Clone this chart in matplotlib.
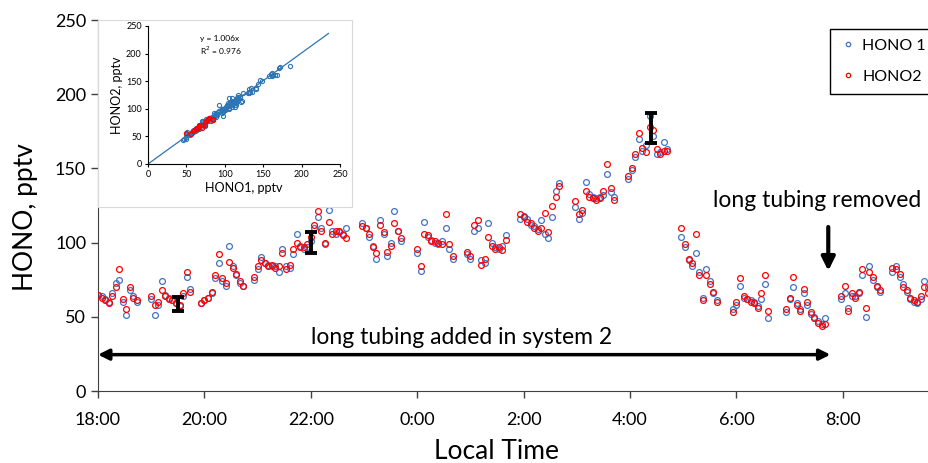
#!/usr/bin/env python3
"""HONO time series from two systems, with an inset HONO1 vs HONO2 scatter."""

import matplotlib
matplotlib.use("Agg")
import matplotlib.pyplot as plt

plt.rcParams["font.family"] = ["Lato", "DejaVu Sans"]

# 4-minute data, split into the segments where the instruments were sampling
STEP_MIN = 4
SEGMENT_START = ["18:00", "19:00", "19:56", "20:56", "22:58", "0:00", "0:56", "1:56",
                 "2:58", "3:58", "4:58", "5:56", "6:56", "7:58", "8:56"]
HONO1_SEGMENTS = [
    [65, 64, 62, 60, 66, 73, 75, 60, 51, 68, 64, 60],
    [62, 51, 58, 74, 65, 63, 61, 59, 57, 64, 77, 69],
    [59, 61, 63, 66, 76, 86, 74, 71, 98, 84, 78, 73, 71],
    [75, 82, 90, 86, 85, 84, 84, 80, 96, 84, 83, 92, 106, 98, 96, 97, 101, 110, 117, 110,
     99, 122, 108, 106, 107, 106, 110],
    [113, 110, 104, 98, 89, 115, 106, 91, 100, 121, 108, 101],
    [93, 81, 114, 104, 102, 100, 99, 101, 110, 96, 89],
    [92, 89, 108, 110, 88, 86, 113, 100, 97, 96, 98, 105],
    [116, 118, 116, 112, 111, 109, 115, 106, 103, 117, 135, 140],
    [124, 116, 120, 141, 133, 131, 130, 131, 132, 146, 134, 131],
    [143, 149, 158, 170, 162, 166, 185, 172, 160, 161, 168, 163],
    [104, 97, 88, 84, 93, 80, 63, 82, 74, 66, 61],
    [55, 58, 71, 63, 62, 61, 60, 57, 62, 72, 49],
    [53, 62, 70, 59, 55, 66, 58, 52, 50, 47, 45, 49],
    [62, 66, 56, 64, 64, 66, 78, 50, 84, 75, 70, 67],
    [80, 84, 77, 72, 67, 62, 60, 59, 62, 74, 70],
]
HONO2_SEGMENTS = [
    [65, 63, 61, 59, 64, 70, 82, 62, 55, 70, 63, 61],
    [64, 58, 60, 68, 64, 62, 61, 59, 58, 66, 80, 67],
    [59, 61, 63, 67, 78, 92, 76, 73, 87, 83, 79, 74, 71],
    [77, 84, 88, 86, 84, 85, 83, 84, 93, 82, 85, 96, 100, 97, 97, 99, 104, 112, 121, 108,
     100, 114, 106, 108, 108, 105, 103],
    [111, 110, 106, 97, 93, 112, 107, 94, 98, 113, 108, 103],
    [96, 84, 106, 105, 101, 101, 100, 99, 119, 99, 91],
    [94, 91, 112, 115, 85, 89, 104, 98, 96, 97, 95, 102],
    [119, 117, 114, 113, 110, 108, 110, 120, 107, 125, 131, 138],
    [128, 119, 122, 135, 131, 130, 129, 130, 135, 153, 137, 129],
    [145, 150, 160, 174, 164, 161, 178, 176, 163, 160, 162, 162],
    [110, 99, 89, 86, 106, 78, 61, 78, 72, 67, 60],
    [53, 60, 76, 64, 62, 60, 59, 56, 66, 78, 54],
    [55, 63, 77, 58, 54, 69, 60, 53, 49, 46, 44, 45],
    [64, 71, 54, 66, 63, 67, 82, 56, 80, 77, 71, 68],
    [83, 82, 79, 70, 68, 63, 61, 60, 64, 70, 66],
]
# segments measured after the long tubing was removed (shown red in the inset)
AFTER_REMOVAL = [13, 14]

ERRBAR_TIME = ["19:30", "22:00", "4:24"]
ERRBAR_CENTER = [58.5, 100, 177]
ERRBAR_HALF = [4.7, 7, 10]

TICK_LABELS = ["18:00", "20:00", "22:00", "0:00", "2:00", "4:00", "6:00", "8:00"]
TUBING_ADDED = "18:00"
TUBING_REMOVED = "7:46"

FIT_SLOPE = 1.006
FIT_R2 = 0.976

BLUE = "#4472C4"
RED = "#FF0000"


def clock_to_hours(clock: str) -> float:
    hh, mm = clock.split(":")
    return (int(hh) - 18) % 24 + int(mm) / 60


def series_times(start: str, n: int) -> list[float]:
    t0 = clock_to_hours(start)
    return [t0 + i * STEP_MIN / 60 for i in range(n)]


def main() -> None:
    fig = plt.figure(figsize=(9.29, 4.63), dpi=100)
    ax = fig.add_axes([0.1055, 0.1555, 0.8945, 0.8013])

    for k, (start, h1, h2) in enumerate(zip(SEGMENT_START, HONO1_SEGMENTS, HONO2_SEGMENTS)):
        t = series_times(start, len(h1))
        ax.plot(t, h1, ls="none", marker="o", ms=4.2, mfc="none", mec=BLUE, mew=0.9,
                label="HONO 1" if k == 0 else None, zorder=3)
        ax.plot(t, h2, ls="none", marker="o", ms=4.2, mfc="none", mec=RED, mew=0.9,
                label="HONO2" if k == 0 else None, zorder=4)

    err_t = [clock_to_hours(c) for c in ERRBAR_TIME]
    ax.errorbar(err_t, ERRBAR_CENTER, yerr=ERRBAR_HALF, fmt="none", ecolor="black",
                elinewidth=2.8, capsize=4.5, capthick=2.8, zorder=5)

    ax.set_xlim(0, 15.62)
    ax.set_ylim(0, 250)
    ax.set_xticks([clock_to_hours(c) for c in TICK_LABELS])
    ax.set_xticklabels(TICK_LABELS)
    ax.set_yticks([0, 50, 100, 150, 200, 250])
    ax.tick_params(axis="both", direction="out", length=5, width=1, labelsize=13,
                   color="#404040")
    ax.tick_params(axis="x", pad=10)
    ax.spines["top"].set_visible(False)
    ax.spines["right"].set_visible(False)
    for side in ("left", "bottom"):
        ax.spines[side].set_color("#404040")
    ax.set_xlabel("Local Time", fontsize=19, labelpad=8)
    ax.xaxis.label.set_x(0.479)
    ax.set_ylabel("HONO, pptv", fontsize=19, labelpad=12)
    ax.yaxis.label.set_y(0.47)

    # annotations
    t_add = clock_to_hours(TUBING_ADDED)
    t_rem = clock_to_hours(TUBING_REMOVED)
    ax.annotate("", xy=(t_add, 24.5), xytext=(t_rem, 24.5),
                arrowprops=dict(arrowstyle="<|-|>", lw=2.5, color="black",
                                mutation_scale=16, shrinkA=0, shrinkB=0))
    ax.text((t_add + t_rem) / 2 - 0.05, 36, "long tubing added in system 2",
            ha="center", va="center", fontsize=16.5)
    ax.annotate("", xy=(t_rem - 0.04, 81), xytext=(t_rem - 0.04, 110.5),
                arrowprops=dict(arrowstyle="-|>", lw=3, color="black",
                                mutation_scale=20, shrinkA=0, shrinkB=0))
    ax.text(13.52, 128.5, "long tubing removed", ha="center", va="center", fontsize=16.5)

    ax.legend(loc="upper left", bbox_to_anchor=(0.881, 0.975), borderaxespad=0,
              fontsize=11.5, frameon=True, fancybox=False, edgecolor="black",
              framealpha=1, handletextpad=0.4, borderpad=0.6, labelspacing=1.05,
              handlelength=1.0, markerscale=0.75)

    # inset background frame
    frame = fig.add_axes([0.1055, 0.5529, 0.2734, 0.4039])
    frame.set_xticks([])
    frame.set_yticks([])
    frame.set_facecolor("white")
    for s in frame.spines.values():
        s.set_color("#d9d9d9")

    inset = fig.add_axes([0.1593, 0.6458, 0.2067, 0.2981])
    for k, (h1, h2) in enumerate(zip(HONO1_SEGMENTS, HONO2_SEGMENTS)):
        if k in AFTER_REMOVAL:
            continue
        inset.plot(h1, h2, ls="none", marker="o", ms=3, mfc="none", mec="#2E75B6",
                   mew=0.8, zorder=3)
    for k in AFTER_REMOVAL:
        inset.plot(HONO1_SEGMENTS[k], HONO2_SEGMENTS[k], ls="none", marker="o", ms=3,
                   mfc="none", mec=RED, mew=0.8, zorder=4)
    fit_x = [0, 235]
    inset.plot(fit_x, [FIT_SLOPE * v for v in fit_x], color="#2E75B6", lw=0.9, zorder=2)
    inset.text(68, 228, f"y = {FIT_SLOPE:.3f}x", fontsize=6, va="center")
    inset.text(68, 205, f"R$^2$ = {FIT_R2:.3f}", fontsize=6, va="center")
    inset.set_xlim(0, 250)
    inset.set_ylim(0, 250)
    inset.set_xticks([0, 50, 100, 150, 200, 250])
    inset.set_yticks([0, 50, 100, 150, 200, 250])
    inset.tick_params(direction="out", length=2.5, width=0.8, labelsize=6.5, pad=2)
    inset.spines["top"].set_visible(False)
    inset.spines["right"].set_visible(False)
    inset.set_xlabel("HONO1, pptv", fontsize=9, labelpad=2)
    inset.set_ylabel("HONO2, pptv", fontsize=9, labelpad=2)

    fig.savefig("out.png", dpi=100)
    plt.close(fig)


if __name__ == "__main__":
    main()
